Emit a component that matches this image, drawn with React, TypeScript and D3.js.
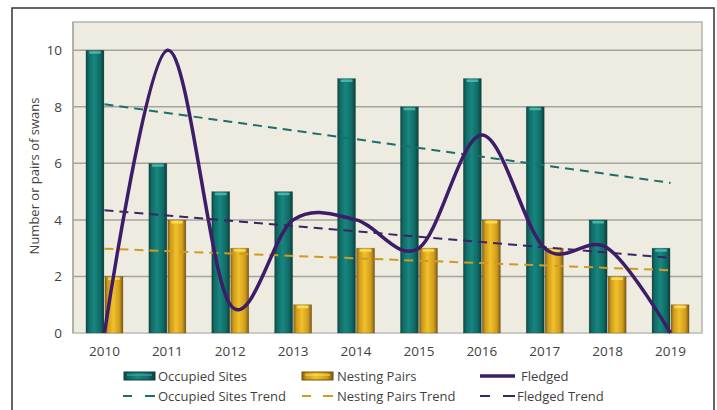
import React from 'react';
import * as d3 from 'd3';

const years = ['2010', '2011', '2012', '2013', '2014', '2015', '2016', '2017', '2018', '2019'];
const occupiedSites = [10, 6, 5, 5, 9, 8, 9, 8, 4, 3];
const nestingPairs = [2, 4, 3, 1, 3, 3, 4, 3, 2, 1];
const fledged = [0, 10, 1, 4, 4, 3, 7, 3, 3, 0];
const yTicks = [0, 2, 4, 6, 8, 10];

const W = 717;
const H = 410;
const plot = { left: 73, right: 702, top: 22, bottom: 333 };
const font = '"Open Sans", "Noto Sans", sans-serif';
const textColor = '#3f3f3f';

const purple = '#3d1c68';

// least squares trend over the category index
const trend = (values: number[]) => {
  const xs = values.map((_, i) => i);
  const mx = d3.mean(xs) as number;
  const my = d3.mean(values) as number;
  const sxy = d3.sum(xs, (x, i) => (x - mx) * (values[i] - my));
  const sxx = d3.sum(xs, x => (x - mx) ** 2);
  const slope = sxy / sxx;
  return values.map((_, i) => my + slope * (i - mx));
};

const App: React.FC = () => {
  const x = d3.scaleBand().domain(years).range([plot.left, plot.right]);
  const x1 = d3.scaleBand().domain(['occ', 'nest']).range([-18.5, 18.5]).paddingInner(0.054);
  const y = d3.scaleLinear().domain([0, 11]).range([plot.bottom, plot.top]);
  const cx = (yr: string) => (x(yr) as number) + x.bandwidth() / 2;

  const smooth = d3.line<number>()
    .x((_, i) => cx(years[i]))
    .y(d => y(d))
    .curve(d3.curveCardinal.tension(0));
  const straight = d3.line<number>()
    .x((_, i) => cx(years[i]))
    .y(d => y(d));

  const trends = [
    { values: trend(occupiedSites), color: '#1b6f6a' },
    { values: trend(nestingPairs), color: '#d39a22' },
    { values: trend(fledged), color: '#3e2266' },
  ];

  const bars = [
    { key: 'occ', values: occupiedSites, grad: 'gTeal', cap: '#52bdb5' },
    { key: 'nest', values: nestingPairs, grad: 'gGold', cap: '#ffe15a' },
  ];

  const legendRow1 = 376;
  const legendRow2 = 396;

  return (
    <svg width={W} height={H} style={{ position: 'absolute', left: 0, top: 0 }} fontFamily={font}>
      <defs>
        <linearGradient id="gTeal" x1="0" x2="1" y1="0" y2="0">
          <stop offset="0" stopColor="#0a4744" />
          <stop offset="0.15" stopColor="#0f6c67" />
          <stop offset="0.45" stopColor="#18867f" />
          <stop offset="0.8" stopColor="#0f6a65" />
          <stop offset="1" stopColor="#093f3c" />
        </linearGradient>
        <linearGradient id="gGold" x1="0" x2="1" y1="0" y2="0">
          <stop offset="0" stopColor="#8a6410" />
          <stop offset="0.15" stopColor="#cf9a1a" />
          <stop offset="0.45" stopColor="#f0c12c" />
          <stop offset="0.8" stopColor="#d09c1c" />
          <stop offset="1" stopColor="#7e5a0e" />
        </linearGradient>
      </defs>

      <rect x={0} y={0} width={W} height={H} fill="#ffffff" />
      <rect x={12} y={8} width={702} height={420} fill="none" stroke="#333333" strokeWidth={1.5} />

      <rect
        x={plot.left}
        y={plot.top}
        width={plot.right - plot.left}
        height={plot.bottom - plot.top}
        fill="#eeebe1"
        stroke="#b4b4b0"
        strokeWidth={1.5}
      />

      {yTicks.filter(t => t > 0).map(t => (
        <line key={t} x1={plot.left} x2={plot.right} y1={y(t)} y2={y(t)} stroke="#a4a4a0" strokeWidth={1.5} />
      ))}
      <line x1={plot.left} x2={plot.right} y1={y(0)} y2={y(0)} stroke="#c9c9c5" strokeWidth={2} />
      <line x1={plot.left} x2={plot.left} y1={plot.top} y2={plot.bottom} stroke="#a9a9a5" strokeWidth={1.5} />

      {yTicks.map(t => (
        <text key={t} x={62} y={y(t)} dy="0.35em" textAnchor="end" fontSize={13.5} fill={textColor}>{t}</text>
      ))}
      {years.map(yr => (
        <text key={yr} x={cx(yr)} y={356} textAnchor="middle" fontSize={13.5} fill={textColor}>{yr}</text>
      ))}
      <text
        transform={`translate(39, 176) rotate(-90)`}
        textAnchor="middle"
        fontSize={13}
        fill={textColor}
      >
        Number or pairs of swans
      </text>

      {bars.map(b => (
        <g key={b.key}>
          {b.values.map((v, i) => {
            const bx = cx(years[i]) + (x1(b.key) as number);
            const bw = x1.bandwidth();
            return (
              <g key={i}>
                <rect x={bx} y={y(v)} width={bw} height={y(0) - y(v)} fill={`url(#${b.grad})`} stroke="rgba(40,40,30,0.35)" strokeWidth={0.6} />
                <rect x={bx + 3} y={y(v) + 1} width={bw - 6} height={2.5} rx={1.2} fill={b.cap} opacity={0.85} />
              </g>
            );
          })}
        </g>
      ))}

      {trends.map((t, i) => (
        <path key={i} d={straight(t.values) as string} fill="none" stroke={t.color} strokeWidth={2} strokeDasharray="9,6" />
      ))}

      <path d={smooth(fledged) as string} fill="none" stroke={purple} strokeWidth={3.5} strokeLinejoin="round" />

      {/* legend */}
      <g fontSize={13} fill={textColor}>
        <rect x={124} y={legendRow1 - 4} width={31} height={8} fill="url(#gTeal)" stroke="#0a3f3c" strokeWidth={1} />
        <line x1={127} x2={152} y1={legendRow1 - 1} y2={legendRow1 - 1} stroke="#4fb3ab" strokeWidth={1} />
        <text x={158} y={legendRow1} dy="0.35em">Occupied Sites</text>

        <rect x={302} y={legendRow1 - 4} width={31} height={8} fill="url(#gGold)" stroke="#6f500c" strokeWidth={1} />
        <line x1={305} x2={330} y1={legendRow1 - 1} y2={legendRow1 - 1} stroke="#ffe15a" strokeWidth={1} />
        <text x={337} y={legendRow1} dy="0.35em">Nesting Pairs</text>

        <line x1={480} x2={515} y1={legendRow1} y2={legendRow1} stroke={purple} strokeWidth={3.5} />
        <text x={521} y={legendRow1} dy="0.35em">Fledged</text>

        <line x1={123} x2={155} y1={legendRow2} y2={legendRow2} stroke={trends[0].color} strokeWidth={2} strokeDasharray="9,13" />
        <line x1={145} x2={155} y1={legendRow2} y2={legendRow2} stroke={trends[0].color} strokeWidth={2} />
        <text x={158} y={legendRow2} dy="0.35em">Occupied Sites Trend</text>

        <line x1={302} x2={333} y1={legendRow2} y2={legendRow2} stroke={trends[1].color} strokeWidth={2} strokeDasharray="9,12" />
        <line x1={323} x2={333} y1={legendRow2} y2={legendRow2} stroke={trends[1].color} strokeWidth={2} />
        <text x={337} y={legendRow2} dy="0.35em">Nesting Pairs Trend</text>

        <line x1={480} x2={515} y1={legendRow2} y2={legendRow2} stroke={trends[2].color} strokeWidth={2} strokeDasharray="10,13" />
        <line x1={504} x2={515} y1={legendRow2} y2={legendRow2} stroke={trends[2].color} strokeWidth={2} />
        <text x={517} y={legendRow2} dy="0.35em">Fledged Trend</text>
      </g>
    </svg>
  );
};

export default App;
